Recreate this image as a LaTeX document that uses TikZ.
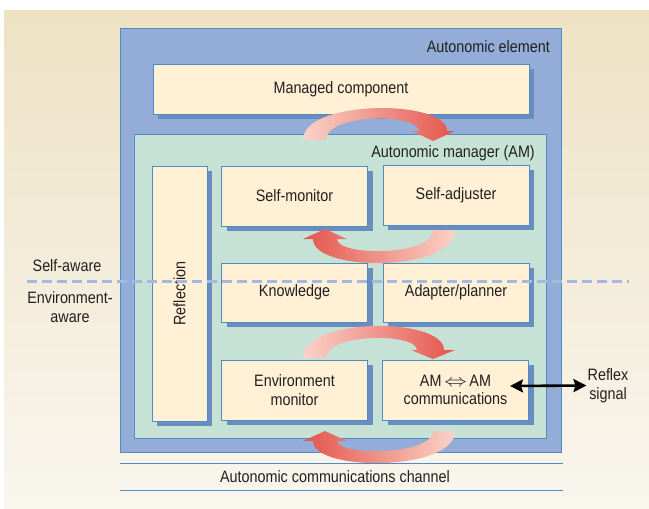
\documentclass[tikz,border=0pt]{standalone}
\usepackage{fontspec}
\usepackage{graphicx}
\setmainfont{Liberation Sans}[FakeStretch=0.87]
\usetikzlibrary{arrows.meta,shadows}
\definecolor{bgtop}{HTML}{EEE2C4}
\definecolor{bgbot}{HTML}{F9F6EE}
\definecolor{aeblue}{HTML}{93ADD8}
\definecolor{edgeblue}{HTML}{4F8CC4}
\definecolor{amgreen}{HTML}{C6E2D6}
\definecolor{cream}{HTML}{FFF0D6}
\definecolor{shadowblue}{HTML}{6A8DC0}
\definecolor{dashblue}{HTML}{A4B9DD}
\definecolor{arrowlight}{HTML}{FAD3C8}
\definecolor{arrowdark}{HTML}{E4544B}
\definecolor{txt}{HTML}{231F20}
\begin{document}
\begin{tikzpicture}[x=1pt,y=-1pt,
  font=\fontsize{16.5}{18.5}\selectfont, text=txt,
  box/.style={draw=edgeblue, line width=0.8pt, fill=cream, minimum width=146pt,
    minimum height=60pt, inner sep=0pt, align=center,
    general shadow={fill=shadowblue, shadow xshift=5pt, shadow yshift=-5pt}},
  frame/.style={draw=edgeblue, line width=0.8pt, inner sep=0pt},
  lbl/.style={inner sep=1pt, align=center},
  fatarrowLR/.style={left color=arrowlight, right color=arrowdark},
  fatarrowRL/.style={left color=arrowdark, right color=arrowlight},
  chanline/.style={draw=edgeblue, line width=0.9pt},
  reflexarrow/.style={draw=black, line width=2.6pt,
    {Stealth[length=13pt,width=13pt,inset=2pt]}-{Stealth[length=13pt,width=13pt,inset=2pt]}},
  divider/.style={draw=dashblue, line width=3pt, dash pattern=on 10pt off 5pt}
]
\fill[white] (0,0) rectangle (649,509);
\useasboundingbox (0,0) rectangle (649,509);
\shade[top color=bgtop, bottom color=bgbot] (4,10) rectangle (649,509);

% autonomic element
\node[frame, fill=aeblue, minimum width=441pt, minimum height=424pt] (ae) at (340.5,240) {};
\node[lbl, anchor=east] (aelbl) at (551,47) {Autonomic element};

% managed component
\node[box, minimum width=376pt, minimum height=50pt] (mc) at (341,89) {Managed component};

% autonomic manager
\node[frame, fill=amgreen, minimum width=412pt, minimum height=304pt] (am) at (340,286) {};
\node[lbl, anchor=east] (amlbl) at (536,153) {Autonomic manager (AM)};

% reflection
\node[box, minimum width=55pt, minimum height=255pt] (refl) at (179.5,293.5) {};
\node[lbl, rotate=90] (refltxt) at (refl.center) {Reflection};

% inner boxes
\node[box] (sm) at (294.5,196) {Self-monitor};
\node[box] (sa) at (456,195) {Self-adjuster};
\node[box, minimum height=59pt] (kn) at (294.5,292.5) {Knowledge};
\node[box, minimum height=59pt] (ap) at (456,292.5) {Adapter/planner};
\node[box] (em) at (294.5,390) {Environment\\monitor};
\node[box] (ac) at (455.5,390) {AM\,\scalebox{1.3}[1]{$\Leftrightarrow$}\,AM\\communications};

% fat curved arrows
\shade[fatarrowLR] (303,140) .. controls (303,99) and (447,99) .. (447,131)
  -- (455,131) -- (433,141) -- (412,131) -- (419,131)
  .. controls (419,113) and (326,113) .. (326,140) -- cycle;
\shade[fatarrowRL] (455,230) .. controls (455,272.5) and (313,272.5) .. (313,239)
  -- (303,239) -- (325,229) -- (347,239) -- (337,239)
  .. controls (337,256.5) and (433,256.5) .. (433,230) -- cycle;
\shade[fatarrowLR] (303,358) .. controls (303,316.7) and (444,316.7) .. (444,350)
  -- (455,350) -- (433,359) -- (411,350) -- (417,350)
  .. controls (417,332.7) and (326,332.7) .. (326,358) -- cycle;
\shade[fatarrowRL] (455,431) .. controls (455,472) and (313,472) .. (313,441)
  -- (303,441) -- (325,431) -- (347,441) -- (337,441)
  .. controls (337,456) and (433,456) .. (433,431) -- cycle;

% reflex signal
\coordinate (rsL) at (510,386);
\node[lbl] (reflex) at (608,385.5) {Reflex\\signal};
\draw[reflexarrow] (rsL) -- (reflex.west);

% communications channel
\coordinate (c1a) at (120,463);
\coordinate (c1b) at (563,463);
\coordinate (c2a) at (120,490);
\coordinate (c2b) at (563,490);
\draw[chanline] (c1a) -- (c1b);
\draw[chanline] (c2a) -- (c2b);
\node[lbl] (chan) at (335,477) {Autonomic communications channel};

% self-aware / environment-aware divider
\coordinate (dL) at (27,281);
\coordinate (dR) at (629,281);
\draw[divider] (dL) -- (dR);
\node[lbl] (selfaw) at (67,266) {Self-aware};
\node[lbl] (envaw) at (70,307) {Environment-\\aware};
\end{tikzpicture}
\end{document}
